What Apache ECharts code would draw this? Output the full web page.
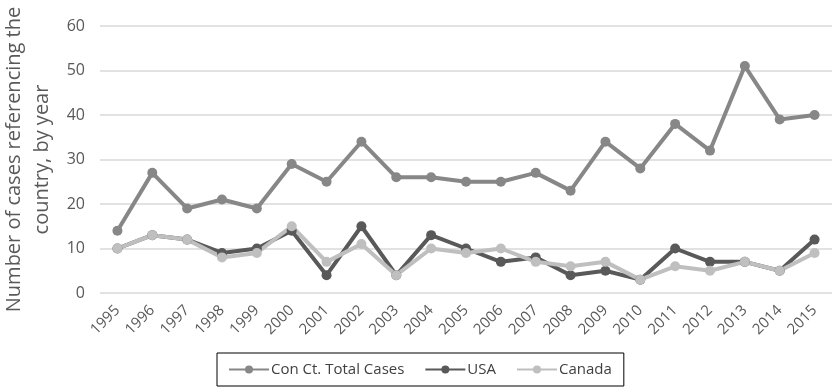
<!DOCTYPE html>
<html>
<head>
<meta charset="utf-8">
<script src="https://cdn.jsdelivr.net/npm/echarts@6/dist/echarts.min.js"></script>
<style>
  html, body { margin: 0; padding: 0; background: #fff; }
  #chart { width: 832px; height: 392px; }
</style>
</head>
<body>
<div id="chart"></div>
<script>
// Cases referencing each country, per year
const years = ['1995','1996','1997','1998','1999','2000','2001','2002','2003','2004','2005',
               '2006','2007','2008','2009','2010','2011','2012','2013','2014','2015'];
const totalCases = [14, 27, 19, 21, 19, 29, 25, 34, 26, 26, 25, 25, 27, 23, 34, 28, 38, 32, 51, 39, 40];
const usaCases   = [10, 13, 12, 9, 10, 14, 4, 15, 4, 13, 10, 7, 8, 4, 5, 3, 10, 7, 7, 5, 12];
const canadaCases = [10, 13, 12, 8, 9, 15, 7, 11, 4, 10, 9, 10, 7, 6, 7, 3, 6, 5, 7, 5, 9];
const yTicks = [0, 10, 20, 30, 40, 50, 60];

const FONT = 'Open Sans';
const TEXT = '#595959';

function lineSeries(name, data, color) {
  return {
    name: name,
    type: 'line',
    data: data,
    symbol: 'circle',
    symbolSize: 10,
    lineStyle: { color: color, width: 4 },
    itemStyle: { color: color },
    emphasis: { disabled: true },
    animation: false
  };
}

const chart = echarts.init(document.getElementById('chart'), null, { renderer: 'canvas' });
chart.setOption({
  animation: false,
  textStyle: { fontFamily: FONT },
  grid: { left: 100, right: 0, top: 26, bottom: 99, containLabel: false, outerBoundsMode: 'none' },
  xAxis: {
    type: 'category',
    data: years,
    boundaryGap: true,
    axisLine: { show: false },
    axisTick: { show: false },
    axisLabel: { rotate: 45, color: TEXT, fontSize: 15, fontFamily: FONT, margin: 15, interval: 0 }
  },
  yAxis: {
    type: 'value',
    min: yTicks[0],
    max: yTicks[yTicks.length - 1],
    interval: 10,
    name: 'Number of cases referencing the\ncountry, by year',
    nameLocation: 'middle',
    nameGap: 40,
    nameTextStyle: { color: TEXT, fontSize: 20, fontFamily: FONT, lineHeight: 28 },
    axisLine: { show: false },
    axisTick: { show: false },
    axisLabel: { color: TEXT, fontSize: 16, fontFamily: FONT, margin: 15 },
    splitLine: { lineStyle: { color: '#d9d9d9', width: 1.5 } }
  },
  legend: {
    left: 217,
    top: 353,
    padding: [9, 12, 9, 11],
    borderColor: '#000',
    borderWidth: 1,
    itemWidth: 40,
    itemHeight: 10,
    itemGap: 20,
    textStyle: { color: '#404040', fontSize: 15, fontFamily: FONT, padding: [0, 0, 0, -3] },
    data: ['Con Ct. Total Cases', 'USA', 'Canada']
  },
  series: [
    lineSeries('Con Ct. Total Cases', totalCases, '#878787'),
    lineSeries('USA', usaCases, '#595959'),
    lineSeries('Canada', canadaCases, '#bfbfbf')
  ]
});
</script>
</body>
</html>
